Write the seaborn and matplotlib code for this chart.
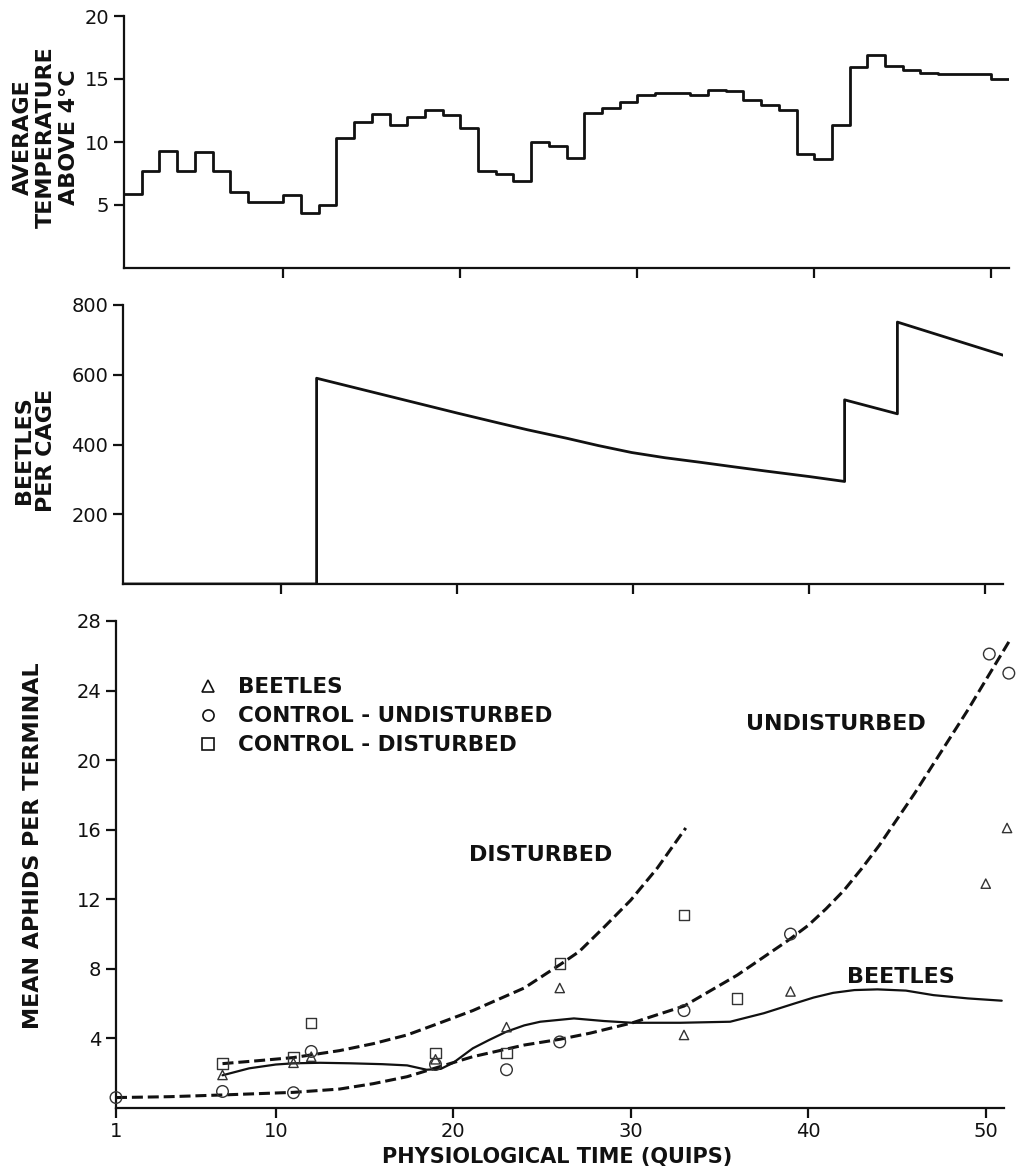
import numpy as np
import pandas as pd
import matplotlib
matplotlib.use("Agg")
import matplotlib.pyplot as plt
import seaborn as sns
from matplotlib.lines import Line2D

# ---------------- data ----------------
# top panel: average temperature above 4 C, one value per quip interval 1..51
temp_edges = list(range(1, 52))
temp_values = [5.9, 7.7, 9.3, 7.7, 9.2, 7.7, 6.0, 5.25, 5.25, 5.8, 4.4, 5.0,
               10.3, 11.6, 12.2, 11.35, 11.95, 12.5, 12.15, 11.15, 7.7, 7.5,
               6.9, 10.0, 9.65, 8.75, 12.3, 12.7, 13.15, 13.7, 13.9, 13.9,
               13.75, 14.15, 14.05, 13.3, 12.95, 12.55, 9.05, 8.65, 11.35,
               15.95, 16.9, 16.0, 15.75, 15.45, 15.4, 15.4, 15.4, 15.0]

# middle panel: beetles per cage
beetle_time = [1, 12, 12, 14, 16, 18, 20, 22.4, 24, 26.2, 28, 29.9, 31.8,
               33.8, 35.7, 37.5, 40, 42, 42, 45, 45, 51.2]
beetle_count = [0, 0, 590, 565, 540, 515, 490, 461, 442, 418, 397, 377, 362,
                349, 336, 324, 308, 294, 528, 488, 751, 653]

# bottom panel: observed means
beet_x = [7, 11, 12, 19, 23, 26, 33, 39, 50, 51.2]
beet_y = [1.9, 2.6, 2.95, 2.8, 4.65, 6.9, 4.2, 6.7, 12.9, 16.1]
undist_x = [1, 7, 11, 12, 19, 23, 26, 33, 39, 50.2, 51.3]
undist_y = [0.6, 0.95, 0.88, 3.25, 2.5, 2.2, 3.8, 5.6, 10.0, 26.1, 25.0]
dist_x = [7, 11, 12, 19, 23, 26, 33, 36]
dist_y = [2.55, 2.9, 4.9, 3.15, 3.15, 8.3, 11.1, 6.3]

# fitted curves (traced)
fit_dist_x = [7, 9, 11, 13.6, 15.5, 17.4, 19, 21.1, 24, 26.1, 27.1, 28.5,
              30, 31.5, 33.1]
fit_dist_y = [2.55, 2.72, 2.9, 3.3, 3.7, 4.2, 4.8, 5.6, 6.9, 8.3, 9.0, 10.4,
              11.95, 13.8, 16.1]
fit_undist_x = [1, 4, 7, 11, 13.6, 15.5, 17.4, 19, 21.1, 24, 26, 27.7, 30.1,
                33, 36, 38.9, 40, 41, 42, 43, 44, 45, 46, 47, 48, 49, 50,
                51.3]
fit_undist_y = [0.6, 0.65, 0.75, 0.9, 1.09, 1.4, 1.8, 2.3, 2.95, 3.62, 3.95,
                4.3, 4.9, 5.86, 7.64, 9.66, 10.5, 11.45, 12.5, 13.75, 15.1,
                16.6, 18.1, 19.7, 21.3, 22.9, 24.6, 26.8]
fit_beet_x = [7, 8.5, 10, 11, 12.5, 14.2, 16, 17.4, 18.5, 19.3, 20, 21.1, 22,
              23, 24, 24.9, 26.8, 28.5, 30.1, 32.8, 35.6, 37.5, 39.2, 40.3,
              41.4, 42.6, 43.9, 45.5, 47.05, 49, 50.9]
fit_beet_y = [1.88, 2.28, 2.5, 2.57, 2.6, 2.57, 2.52, 2.45, 2.2, 2.25, 2.6,
              3.43, 3.9, 4.39, 4.75, 4.96, 5.15, 5.0, 4.9, 4.9, 4.96, 5.45,
              6.0, 6.35, 6.62, 6.78, 6.82, 6.75, 6.49, 6.3, 6.17]

x_ticks = [1, 10, 20, 30, 40, 50]
temp_ticks = [5, 10, 15, 20]
beetle_ticks = [200, 400, 600, 800]
aphid_ticks = [4, 8, 12, 16, 20, 24, 28]

# ---------------- style ----------------
sns.set_theme(style="ticks")
plt.rcParams["font.family"] = ["DejaVu Sans"]
INK = "#111111"
plt.rcParams.update({
    "axes.edgecolor": INK, "axes.linewidth": 1.6,
    "xtick.color": INK, "ytick.color": INK,
    "xtick.major.width": 1.6, "ytick.major.width": 1.6,
    "xtick.major.size": 7, "ytick.major.size": 7,
    "xtick.labelsize": 14, "ytick.labelsize": 14,
    "xtick.direction": "out", "ytick.direction": "out",
})

fig = plt.figure(figsize=(10.26, 11.68), dpi=100)
W, H = 1026, 1168

def rect(l, r, t, b):
    return [l / W, 1 - b / H, (r - l) / W, (b - t) / H]

ax1 = fig.add_axes(rect(124, 1009, 16, 268))
ax2 = fig.add_axes(rect(123, 1003, 305, 584))
ax3 = fig.add_axes(rect(116, 1003.5, 621, 1108))

label_font = dict(fontsize=16, fontweight="bold", color=INK)

# ---- top panel ----
temp_df = pd.DataFrame({"t": temp_edges, "temp": temp_values + [temp_values[-1]]})
sns.lineplot(data=temp_df, x="t", y="temp", ax=ax1, drawstyle="steps-post",
             color=INK, lw=2.0, estimator=None, sort=False)
ax1.set_xlim(1, 51)
ax1.set_ylim(0, 20)
ax1.set_xticks(x_ticks[1:])
ax1.set_xticklabels([])
ax1.set_yticks(temp_ticks)
ax1.set_xlabel("")
ax1.set_ylabel("AVERAGE\nTEMPERATURE\nABOVE 4°C", linespacing=1.2,
               va="center", ha="center", **label_font)
ax1.yaxis.set_label_coords(-0.088, 0.52)

# ---- middle panel ----
beet_df = pd.DataFrame({"t": beetle_time, "n": beetle_count})
sns.lineplot(data=beet_df, x="t", y="n", ax=ax2, color=INK, lw=2.0,
             estimator=None, sort=False)
ax2.set_xlim(1, 51)
ax2.set_ylim(0, 800)
ax2.set_xticks(x_ticks[1:])
ax2.set_xticklabels([])
ax2.set_yticks(beetle_ticks)
ax2.set_xlabel("")
ax2.set_ylabel("BEETLES\nPER CAGE", linespacing=1.15, va="center",
               ha="center", **label_font)
ax2.yaxis.set_label_coords(-0.10, 0.48)

# ---- bottom panel ----
dash = (3.6, 1.6)
sns.lineplot(x=fit_dist_x, y=fit_dist_y, ax=ax3, color=INK, lw=2.2,
             estimator=None, sort=False, dashes=False, linestyle=(0, dash),
             clip_on=False)
sns.lineplot(x=fit_undist_x, y=fit_undist_y, ax=ax3, color=INK, lw=2.2,
             estimator=None, sort=False, dashes=False, linestyle=(0, dash),
             clip_on=False)
sns.lineplot(x=fit_beet_x, y=fit_beet_y, ax=ax3, color=INK, lw=1.6,
             estimator=None, sort=False, clip_on=False)

mk = dict(facecolor="none", edgecolor="#333333", linewidth=1.0, zorder=5,
          clip_on=False)
sns.scatterplot(x=beet_x, y=beet_y, ax=ax3, marker="^", s=45, **mk)
sns.scatterplot(x=undist_x, y=undist_y, ax=ax3, marker="o", s=70, **mk)
sns.scatterplot(x=dist_x, y=dist_y, ax=ax3, marker="s", s=55, **mk)

ax3.set_xlim(1, 51)
ax3.set_ylim(0, 28)
ax3.set_xticks(x_ticks)
ax3.set_xticklabels([str(v) for v in x_ticks])
ax3.set_yticks(aphid_ticks)
ax3.tick_params(axis="x", pad=3)
ax3.set_ylabel("MEAN APHIDS PER TERMINAL", va="center", ha="center",
               fontsize=16, fontweight="bold", color=INK)
ax3.yaxis.set_label_coords(-0.0935, 0.538)
ax3.set_xlabel("PHYSIOLOGICAL TIME (QUIPS)", va="center", ha="center",
               fontsize=15, fontweight="bold", color=INK)
ax3.xaxis.set_label_coords(0.497, -0.1)

txt = dict(fontsize=16, fontweight="bold", color=INK, ha="center", va="center")
ax3.text(41.56, 22.07, "UNDISTURBED", **txt)
ax3.text(24.9, 14.54, "DISTURBED", **txt)
ax3.text(45.2, 7.53, "BEETLES", **txt)

handles = [
    Line2D([], [], linestyle="", marker="^", markersize=8, mfc="none",
           mec=INK, mew=1.2),
    Line2D([], [], linestyle="", marker="o", markersize=8, mfc="none",
           mec=INK, mew=1.2),
    Line2D([], [], linestyle="", marker="s", markersize=8, mfc="none",
           mec=INK, mew=1.2),
]
leg = ax3.legend(handles, ["BEETLES", "CONTROL - UNDISTURBED",
                           "CONTROL - DISTURBED"],
                 loc="upper left", bbox_to_anchor=(0.079, 0.907),
                 frameon=False, handlelength=1.0, handletextpad=0.9,
                 labelspacing=0.42, borderpad=0,
                 prop=dict(size=15.5, weight="bold"))
for t in leg.get_texts():
    t.set_color(INK)

for ax in (ax1, ax2, ax3):
    sns.despine(ax=ax)
    ax.grid(False)
    ax.set_facecolor("white")

fig.savefig("out.png", dpi=100, facecolor="white")
